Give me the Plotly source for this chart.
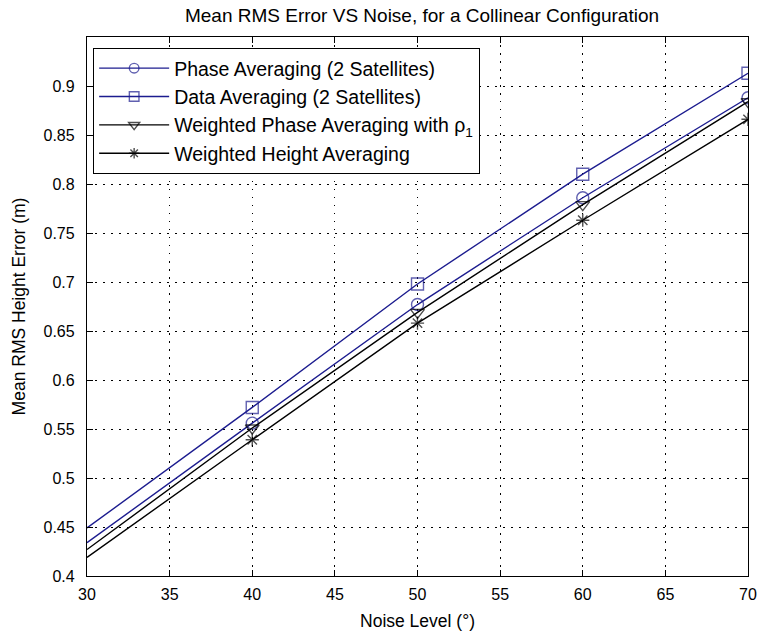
import plotly.graph_objects as go

noise = [30, 40, 50, 60, 70]
phase_avg = [0.434, 0.556, 0.677, 0.786, 0.888]
data_avg = [0.449, 0.572, 0.698, 0.810, 0.913]
weighted_phase = [0.427, 0.551, 0.669, 0.779, 0.884]
weighted_height = [0.419, 0.539, 0.658, 0.763, 0.866]

names = ["Phase Averaging (2 Satellites)", "Data Averaging (2 Satellites)",
         "Weighted Phase Averaging with \u03c1<sub>1</sub>", "Weighted Height Averaging"]
x_ticks = [30, 35, 40, 45, 50, 55, 60, 65, 70]
y_ticks = [0.4, 0.45, 0.5, 0.55, 0.6, 0.65, 0.7, 0.75, 0.8, 0.85, 0.9]
y_ticktext = ["0.4", "0.45", "0.5", "0.55", "0.6", "0.65", "0.7", "0.75", "0.8", "0.85", "0.9"]

NAVY = "#1c1c8f"
FONT = "Liberation Sans, Arial"
series = [
    (phase_avg, names[0], NAVY, "circle-open", 12),
    (data_avg, names[1], NAVY, "square-open", 12),
    (weighted_phase, names[2], "black", "triangle-down-open", 12),
    (weighted_height, names[3], "black", "asterisk-open", 11),
]

fig = go.Figure()
for ys, nm, col, sym, sz in series:
    sizes = [0] + [sz] * (len(noise) - 1)
    fig.add_trace(go.Scatter(
        x=noise, y=ys, name=nm, mode="lines+markers",
        line=dict(color=col, width=1.4),
        marker=dict(symbol=sym, size=sizes, color=col, line=dict(color=col, width=1.4)),
    ))

axis_common = dict(
    showline=True, linecolor="black", linewidth=1.3, mirror="allticks",
    ticks="inside", ticklen=6, tickcolor="black",
    showgrid=True, gridcolor="black", griddash="1.5px,6.5px", gridwidth=1.2,
    zeroline=False,
    tickfont=dict(family=FONT, size=16, color="black"),
)

fig.update_layout(
    width=769, height=641,
    paper_bgcolor="white", plot_bgcolor="white",
    margin=dict(l=87, r=12, t=37, b=65),
    title=dict(text="Mean RMS Error VS Noise, for a Collinear Configuration",
               x=(87 + 757) / 2 / 769, xanchor="center", y=1 - 15 / 641, yanchor="middle",
               font=dict(family=FONT, size=19, color="black")),
    xaxis=dict(range=[30, 70], tickvals=x_ticks, ticklabelstandoff=4,
               title=dict(text="Noise Level (\u00b0)", standoff=12,
                          font=dict(family=FONT, size=17.5, color="black")),
               **axis_common),
    yaxis=dict(range=[0.4, 0.95], tickvals=y_ticks, ticktext=y_ticktext,
               ticklabelstandoff=8,
               title=dict(text="Mean RMS Height Error (m)", standoff=13,
                          font=dict(family=FONT, size=17.5, color="black")),
               **axis_common),
    legend=dict(x=0.009, y=0.98, xanchor="left", yanchor="top",
                bgcolor="white", bordercolor="black", borderwidth=1.2,
                font=dict(family=FONT, size=19.5, color="black"),
                itemwidth=70),
    showlegend=True,
)

fig.write_html("out.html",
               config={"displayModeBar": False},
               post_script="document.body.style.margin='0';document.body.style.overflow='hidden';")
